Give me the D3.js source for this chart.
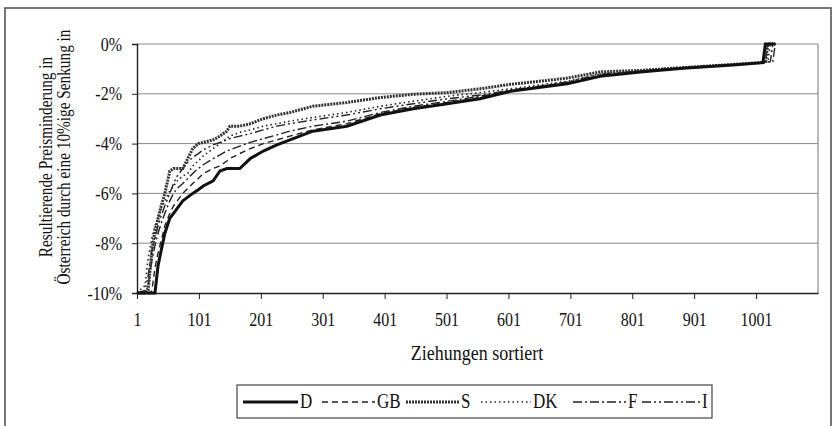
<!DOCTYPE html>
<html><head><meta charset="utf-8">
<script src="https://cdn.jsdelivr.net/npm/d3@7"></script>
<style>body{margin:0;background:#fff}svg{display:block}text{font-family:"Liberation Serif","Times New Roman",serif;fill:#111}</style>
</head><body><svg id="c" width="833" height="426"></svg>
<script>
// ranks (Ziehungen sortiert) shared by all series
const ranks = [1,14,19,22,25,30,35,40,46,54,60,66,75,83,91,100,108,124,135,146,151,167,184,205,227,248,285,340,394,447,502,555,604,650,696,749,814,883,964,1012,1016,1020,1024,1028,1032];
// values in percent (values below -10% shown at -10%)
const D  = [-10,-10,-10,-10,-10,-10,-8.9,-8.3,-7.6,-7.0,-6.8,-6.6,-6.3,-6.15,-6.0,-5.85,-5.7,-5.5,-5.1,-5.0,-5.0,-5.0,-4.6,-4.3,-4.05,-3.85,-3.5,-3.3,-2.85,-2.6,-2.4,-2.2,-1.9,-1.75,-1.6,-1.3,-1.12,-0.97,-0.84,-0.75,0,0,0,0,0];
const GB = [-10,-10,-10,-10,-9.9,-9.0,-8.4,-7.9,-7.3,-6.8,-6.5,-6.3,-6.0,-5.8,-5.6,-5.4,-5.2,-5.0,-4.9,-4.7,-4.6,-4.4,-4.2,-4.0,-3.85,-3.7,-3.45,-3.2,-2.8,-2.55,-2.35,-2.15,-1.88,-1.73,-1.57,-1.28,-1.1,-0.96,-0.83,-0.74,-0.73,0,0,0,0];
const S  = [-10,-10,-9.9,-9.1,-8.3,-7.5,-7.0,-6.5,-6.0,-5.1,-5.0,-5.0,-5.0,-4.6,-4.2,-4.0,-3.95,-3.85,-3.7,-3.5,-3.3,-3.3,-3.2,-3.0,-2.85,-2.75,-2.5,-2.35,-2.15,-2.02,-1.95,-1.8,-1.62,-1.5,-1.37,-1.12,-1.06,-0.95,-0.82,-0.74,-0.73,0,0,0,0];
const DK = [-10,-9.7,-8.6,-8.2,-7.8,-7.3,-7.0,-6.6,-6.3,-5.9,-5.7,-5.5,-5.3,-5.2,-4.9,-4.7,-4.5,-4.2,-4.0,-3.8,-3.7,-3.55,-3.45,-3.3,-3.2,-3.1,-2.95,-2.75,-2.5,-2.3,-2.1,-1.95,-1.8,-1.65,-1.5,-1.2,-1.08,-0.95,-0.83,-0.74,-0.73,-0.72,0,0,0];
const F  = [-10,-10,-9.7,-9.2,-8.7,-8.1,-7.6,-7.2,-6.8,-6.3,-6.0,-5.8,-5.6,-5.4,-5.2,-5.0,-4.85,-4.6,-4.45,-4.3,-4.25,-4.1,-3.95,-3.8,-3.65,-3.5,-3.3,-3.1,-2.75,-2.5,-2.3,-2.1,-1.9,-1.72,-1.55,-1.25,-1.1,-0.96,-0.83,-0.74,-0.73,-0.72,-0.71,0,0];
const I  = [-10,-9.9,-9.3,-8.8,-8.3,-7.8,-7.3,-6.9,-6.5,-6.0,-5.6,-5.3,-5.0,-4.75,-4.55,-4.4,-4.25,-4.05,-3.95,-3.85,-3.8,-3.7,-3.6,-3.45,-3.3,-3.2,-3.05,-2.85,-2.6,-2.4,-2.2,-2.05,-1.85,-1.7,-1.52,-1.22,-1.09,-0.95,-0.83,-0.74,-0.73,-0.72,-0.71,-0.7,0];
const seriesNames = ["D","GB","S","DK","F","I"];
const xTicks = [1,101,201,301,401,501,601,701,801,901,1001];
const yTicks = [0,-2,-4,-6,-8,-10];
const xTitle = "Ziehungen sortiert";
const yTitle = ["Resultierende Preisminderung in","Österreich durch eine 10%ige Senkung in"];

const seriesVals = {D, GB, S, DK, F, I};
const styles = {
  D:  {w:3,   c:"#111", dash:null},
  GB: {w:1.4, c:"#222", dash:"6,4"},
  S:  {w:3,   c:"#333", dash:"2,1"},
  DK: {w:1.6, c:"#222", dash:"1.5,3"},
  F:  {w:1.4, c:"#222", dash:"9,3,2,3"},
  I:  {w:1.4, c:"#222", dash:"9,3,2,3,2,3"}
};
const SY = 1.2; // vertical glyph stretch seen in the scan

const svg = d3.select("#c");
const L=137, R=818, T=44, B=293;
const x = d3.scaleLinear().domain([1,1101]).range([L,R]);
const y = d3.scaleLinear().domain([-10,0]).range([B,T]);

// outer frame
svg.append("rect").attr("x",5).attr("y",8).attr("width",826).attr("height",430)
  .attr("fill","#fff").attr("stroke","#555").attr("stroke-width",1.6);

// grid
svg.append("g").selectAll("line").data(yTicks.filter(v=>v!==-10)).join("line")
  .attr("x1",L).attr("x2",R).attr("y1",d=>y(d)).attr("y2",d=>y(d))
  .attr("stroke","#8a8a8a").attr("stroke-width",1);
svg.append("line").attr("x1",R).attr("x2",R).attr("y1",T).attr("y2",B).attr("stroke","#8a8a8a").attr("stroke-width",1.2);

// axes
const yAxis = d3.axisLeft(y).tickValues(yTicks).tickSize(5).tickFormat(d=>d+"%");
const gy = svg.append("g").attr("transform",`translate(${L},0)`).call(yAxis);
gy.select(".domain").attr("stroke","#222").attr("stroke-width",1.4);
gy.selectAll(".tick line").attr("stroke","#222");
gy.selectAll(".tick text").attr("x",-15).attr("font-size",16).attr("fill","#111")
  .attr("transform",`scale(1,${SY})`).style("font-family","Liberation Serif");

const xAxis = d3.axisBottom(x).tickValues(xTicks).tickSize(6).tickSizeOuter(0).tickFormat(d3.format("d"));
const gx = svg.append("g").attr("transform",`translate(0,${B})`).call(xAxis);
gx.select(".domain").attr("stroke","#222").attr("stroke-width",1.4);
gx.selectAll(".tick line").attr("stroke","#222");
gx.selectAll(".tick text").attr("y",16).attr("font-size",16).attr("fill","#111")
  .attr("transform",`scale(1,${SY})`).style("font-family","Liberation Serif");

// clip
svg.append("clipPath").attr("id","pc").append("rect").attr("x",L-2).attr("y",T-3).attr("width",R-L+4).attr("height",B-T+5);

const line = d3.line().x(d=>x(d[0])).y(d=>y(Math.max(-10,d[1])));
const gl = svg.append("g").attr("clip-path","url(#pc)");
["DK","F","I","GB","S","D"].forEach(k=>{
  const st = styles[k];
  gl.append("path").datum(ranks.map((r,i)=>[r,seriesVals[k][i]]))
    .attr("d",line).attr("fill","none").attr("stroke",st.c).attr("stroke-width",st.w)
    .attr("stroke-dasharray",st.dash).attr("stroke-linejoin","miter");
});

// titles
svg.append("text").attr("transform",`translate(477,360) scale(1,${SY})`).attr("text-anchor","middle").attr("font-size",18).text(xTitle);
yTitle.forEach((t,i)=>{
  svg.append("text").attr("transform",`translate(${52+i*18},157) rotate(-90) scale(1,${SY})`)
    .attr("text-anchor","middle").attr("font-size",15.3).text(t);
});

// legend
svg.append("rect").attr("x",237).attr("y",385).attr("width",475).attr("height",33)
  .attr("fill","#fff").attr("stroke","#444").attr("stroke-width",1.2);
const legPos = {D:[243,300],GB:[322,377],S:[406,461],DK:[481,533],F:[573,628],I:[642,702]};
seriesNames.forEach(k=>{
  const st = styles[k], p = legPos[k];
  svg.append("line").attr("x1",p[0]).attr("x2",p[1]-2).attr("y1",402).attr("y2",402)
    .attr("stroke",st.c).attr("stroke-width",st.w).attr("stroke-dasharray",st.dash);
  svg.append("text").attr("transform",`translate(${p[1]},408) scale(1,${SY})`).attr("font-size",17).text(k);
});
</script></body></html>
